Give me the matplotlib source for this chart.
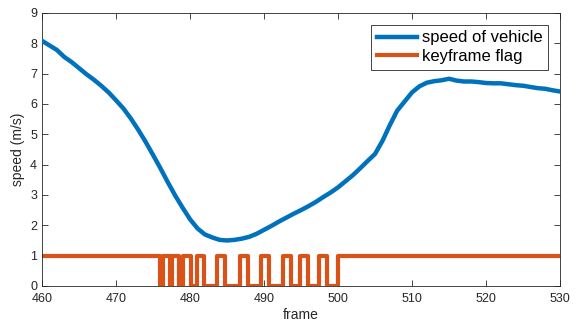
import matplotlib
matplotlib.use("Agg")
import matplotlib.pyplot as plt
import numpy as np

# speed per frame (frames 460..530)
frames = np.arange(460, 531)
speed = [8.08, 7.93, 7.78, 7.55, 7.38, 7.18, 6.98, 6.80, 6.60, 6.38,
         6.12, 5.85, 5.52, 5.15, 4.75, 4.32, 3.88, 3.42, 2.98, 2.58,
         2.20, 1.90, 1.70, 1.60, 1.52, 1.50, 1.52, 1.56, 1.62, 1.72,
         1.85, 1.98, 2.12, 2.25, 2.38, 2.50, 2.63, 2.77, 2.93, 3.08,
         3.25, 3.45, 3.65, 3.88, 4.12, 4.35, 4.78, 5.30, 5.78, 6.08,
         6.38, 6.58, 6.70, 6.75, 6.78, 6.83, 6.77, 6.74, 6.74, 6.72,
         6.69, 6.68, 6.68, 6.65, 6.62, 6.60, 6.56, 6.52, 6.50, 6.45,
         6.41]

# keyframe flag: frames where it switches (starts at 1, alternates)
flag_switch = [476.0, 476.4, 477.3, 477.6, 478.5, 479.1, 480.1, 480.9, 481.9,
               483.6, 484.7, 486.8, 487.9, 489.6, 490.7, 492.6, 493.7,
               494.9, 495.9, 497.4, 498.5, 500.0]
flag_start = 1

blue = "#0072BD"
orange = "#D95319"
axcol = "#262626"

plt.rcParams["font.family"] = ["Liberation Sans", "DejaVu Sans"]

fig = plt.figure(figsize=(5.82, 3.23), dpi=100)
ax = fig.add_axes([0.0722, 0.1146, 0.8900, 0.8454])

ax.plot(frames, speed, color=blue, lw=3.2, label="speed of vehicle", zorder=3)

# step line built from the switch points
fx = [frames[0]] + flag_switch + [frames[-1]]
fy = [(flag_start + i) % 2 for i in range(len(fx) - 1)]
fy = fy + [fy[-1]]
ax.step(fx, fy, where="post", color=orange, lw=3.0,
        label="keyframe flag", zorder=2)

ax.set_xlim(460, 530)
ax.set_ylim(0, 9)
ax.set_xticks(range(460, 531, 10))
ax.set_yticks(range(0, 10))
ax.tick_params(direction="in", top=True, right=True, labelsize=9,
               colors=axcol, length=4, width=0.6)
ax.tick_params(axis="x", pad=5)
for s in ax.spines.values():
    s.set_color(axcol)
    s.set_linewidth(0.6)

ax.set_xlabel("frame", fontsize=10, color=axcol, labelpad=2)
ax.set_ylabel("speed (m/s)", fontsize=10, color=axcol, labelpad=4)

leg = ax.legend(loc="upper right", fontsize=12, handlelength=2.4,
                borderaxespad=0.7, fancybox=False, framealpha=1,
                borderpad=0.35, labelspacing=0.2, handletextpad=0.3)
leg.get_frame().set_edgecolor(axcol)
leg.get_frame().set_linewidth(0.6)

fig.savefig("out.png", dpi=100)
